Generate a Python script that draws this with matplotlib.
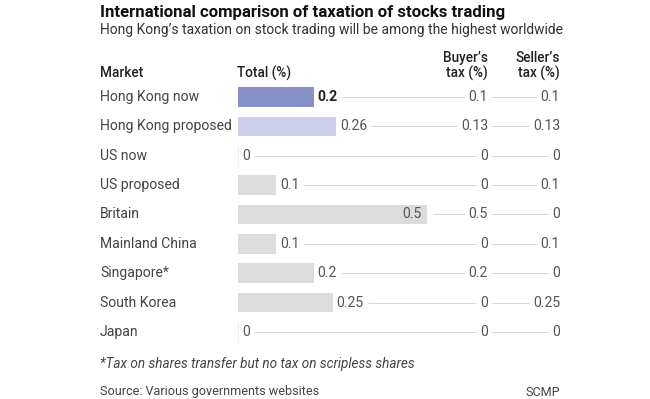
import matplotlib
matplotlib.use("Agg")
import matplotlib.pyplot as plt
from matplotlib.transforms import blended_transform_factory

plt.rcParams['font.family'] = ['Roboto', 'DejaVu Sans']

markets = ["Hong Kong now", "Hong Kong proposed", "US now", "US proposed", "Britain",
           "Mainland China", "Singapore*", "South Korea", "Japan"]
total = [0.2, 0.26, 0, 0.1, 0.5, 0.1, 0.2, 0.25, 0]
total_labels = ["0.2", "0.26", "0", "0.1", "0.5", "0.1", "0.2", "0.25", "0"]
buyer = ["0.1", "0.13", "0", "0", "0.5", "0", "0.2", "0", "0"]
seller = ["0.1", "0.13", "0", "0.1", "0", "0.1", "0", "0.25", "0"]
bar_colors = ["#8891c7", "#cdd1ec"] + ["#dcdcdc"] * 7

W, H = 650, 399
fig = plt.figure(figsize=(W / 100, H / 100), dpi=100)
fig.patch.set_facecolor("white")

def fx(px):
    return px / W

def fy(py):
    return 1 - py / H

PX_PER_UNIT = 378.0
ax_left, ax_right = 238, 560
row_top, row_bot = 97, 332
step = (row_bot - row_top) / (len(markets) - 1)
ax_top, ax_bottom = row_top - step / 2, row_bot + step / 2
ax = fig.add_axes([fx(ax_left), fy(ax_bottom), (ax_right - ax_left) / W, (ax_bottom - ax_top) / H])
ax.set_xlim(0, (ax_right - ax_left) / PX_PER_UNIT)
ax.set_ylim(len(markets) - 0.5, -0.5)
ax.axis("off")

buyer_x = (488 - ax_left) / PX_PER_UNIT
seller_x = (560 - ax_left) / PX_PER_UNIT

ypos = list(range(len(markets)))
ax.barh(ypos, total, height=0.67, color=bar_colors, left=0)
for i, v in enumerate(total):
    if v == 0:
        ax.plot([0, 0], [i - 0.335, i + 0.335], color="#eeeeee", lw=0.8)

txt_color = "#444444"
val_color = "#555555"
fs_row = 10.1
bt = blended_transform_factory(fig.transFigure, ax.transData)

fig.canvas.draw()
renderer = fig.canvas.get_renderer()
inv = ax.transData.inverted()

def left_right(t):
    bb = t.get_window_extent(renderer)
    x0 = inv.transform((bb.x0, 0))[0]
    x1 = inv.transform((bb.x1, 0))[0]
    return x0, x1

gap = 4 / PX_PER_UNIT
for i, m in enumerate(markets):
    ax.text(fx(100), i, m, transform=bt, ha="left", va="center", fontsize=fs_row, color=txt_color)
    v = total[i]
    if i == 4:
        t = ax.text(v - 5 / PX_PER_UNIT, i, total_labels[i], ha="right", va="center",
                    fontsize=fs_row, color=val_color)
    else:
        t = ax.text(v + 4 / PX_PER_UNIT, i, total_labels[i], ha="left", va="center",
                    fontsize=fs_row, color=("#222222" if i == 0 else val_color),
                    fontweight=("bold" if i == 0 else "normal"))
    tb = ax.text(buyer_x, i, buyer[i], ha="right", va="center", fontsize=fs_row, color=val_color)
    ts = ax.text(seller_x, i, seller[i], ha="right", va="center", fontsize=fs_row, color=val_color)
    fig.canvas.draw()
    if i == 4:
        l_start = v + 6 / PX_PER_UNIT
    else:
        l_start = left_right(t)[1] + gap
    b0, b1 = left_right(tb)
    s0, s1 = left_right(ts)
    ax.plot([l_start, b0 - gap], [i, i], color="#d0d0d0", lw=0.6, solid_capstyle="butt")
    ax.plot([b1 + gap, s0 - gap], [i, i], color="#d0d0d0", lw=0.6, solid_capstyle="butt")

# Headers
hdr_kw = dict(fontsize=9.8, color="#222222", fontweight="medium")
fig.text(fx(100), fy(73), "Market", ha="left", va="center", **hdr_kw)
fig.text(fx(237), fy(73), "Total (%)", ha="left", va="center", **hdr_kw)
fig.text(fx(488), fy(58), "Buyer\u2019s", ha="right", va="center", **hdr_kw)
fig.text(fx(488), fy(73), "tax (%)", ha="right", va="center", **hdr_kw)
fig.text(fx(560), fy(58), "Seller\u2019s", ha="right", va="center", **hdr_kw)
fig.text(fx(560), fy(73), "tax (%)", ha="right", va="center", **hdr_kw)

# Title & subtitle
fig.text(fx(100), fy(12), "International comparison of taxation of stocks trading",
         ha="left", va="center", fontsize=12.1, fontweight="bold", color="#111111")
fig.text(fx(100), fy(30), "Hong Kong\u2019s taxation on stock trading will be among the highest worldwide",
         ha="left", va="center", fontsize=10.0, color="#333333")

# Footer
fig.text(fx(100), fy(364), "*Tax on shares transfer but no tax on scripless shares",
         ha="left", va="center", fontsize=9.75, style="italic", color="#444444")
fig.text(fx(100), fy(392), "Source: Various governments websites",
         ha="left", va="center", fontsize=9.1, color="#444444")
fig.text(fx(560), fy(392), "SCMP", ha="right", va="center", fontsize=9.1, color="#444444")

fig.savefig("out.png", dpi=100, facecolor="white")
